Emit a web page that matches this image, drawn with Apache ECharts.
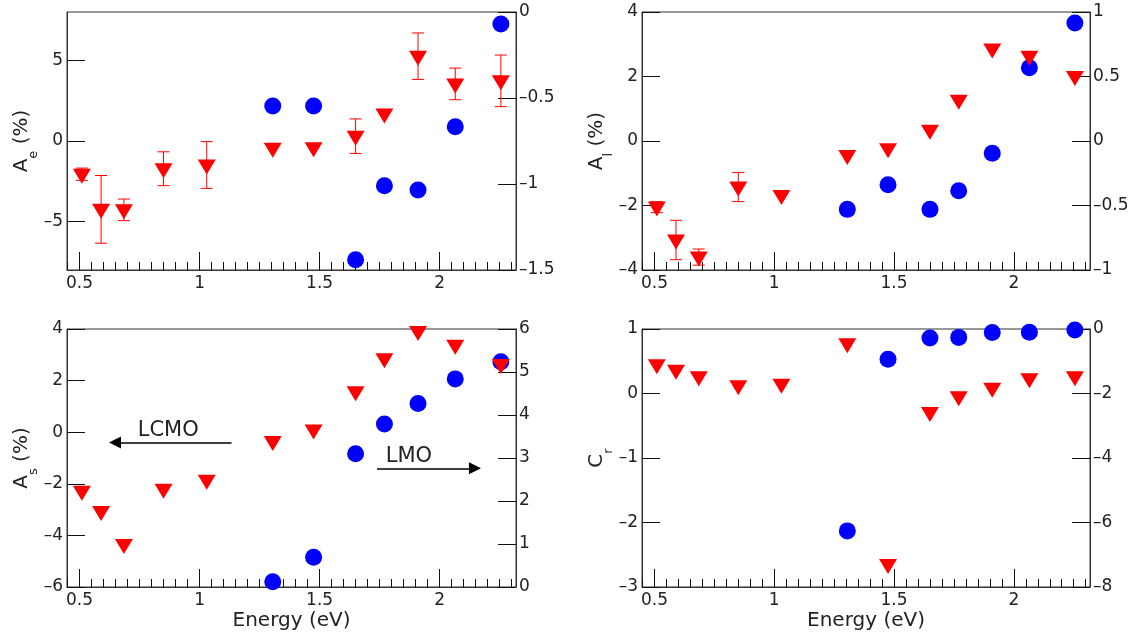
<!DOCTYPE html>
<html>
<head>
<meta charset="utf-8">
<script src="https://cdn.jsdelivr.net/npm/echarts@6/dist/echarts.min.js"></script>
<style>
html, body { margin: 0; padding: 0; background: #fff; }
#main { width: 1131px; height: 638px; }
</style>
</head>
<body>
<div id="main"></div>
<script>
// photon energies (eV)
var energy = [0.51, 0.59, 0.685, 0.85, 1.03, 1.305, 1.475, 1.65, 1.77, 1.91, 2.065, 2.255];
var energyLmo = [1.305, 1.475, 1.65, 1.77, 1.91, 2.065, 2.255];

// LCMO - red triangles, left axis
var lcmoAe = [-2.06, -4.24, -4.27, -1.72, -1.49, -0.45, -0.42, 0.30, 1.67, 5.26, 3.54, 3.73];
var lcmoAeErr = [0.38, 2.10, 0.67, 1.05, 1.45, 0, 0, 1.07, 0, 1.44, 0.98, 1.60];
var lcmoAl = [-2.05, -3.07, -3.60, -1.43, -1.69, -0.45, -0.24, 0.33, 1.26, 2.85, 2.63, 2.00];
var lcmoAlErr = [0.17, 0.61, 0.25, 0.45, 0, 0, 0, 0, 0, 0, 0, 0];
var lcmoAs = [-2.29, -3.07, -4.35, -2.21, -1.86, -0.36, 0.09, 1.57, 2.85, 3.90, 3.37, 2.62];
var lcmoCr = [0.445, 0.36, 0.26, 0.12, 0.145, 0.77, -2.65, -0.295, -0.05, 0.08, 0.23, 0.26];

// LMO - blue circles, right axis
var lmoAe = [-0.547, -0.547, -1.44, -1.01, -1.035, -0.667, -0.07];
var lmoAl = [-0.53, -0.34, -0.53, -0.385, -0.095, 0.568, 0.915];
var lmoAs = [0.12, 0.69, 3.10, 3.79, 4.27, 4.84, 5.24];
var lmoCr = [-6.26, -0.94, -0.28, -0.26, -0.11, -0.10, -0.03];

// ticks
var xTicks = [0.5, 1, 1.5, 2];
var xMinorTicks = [];
for (var t = 45; t <= 230; t += 5) xMinorTicks.push(t / 100);
var aeLeftTicks = [-5, 0, 5];
var aeRightTicks = [-1.5, -1, -0.5, 0];
var alLeftTicks = [-4, -2, 0, 2, 4];
var alRightTicks = [-1, -0.5, 0, 0.5, 1];
var asLeftTicks = [-6, -4, -2, 0, 2, 4];
var asRightTicks = [0, 1, 2, 3, 4, 5, 6];
var crLeftTicks = [-3, -2, -1, 0, 1];
var crRightTicks = [-8, -6, -4, -2, 0];

var FONT = 'DejaVu Sans';
var TXT = '#222';
var X_MIN = 0.448, X_MAX = 2.318;

var panels = [
	{ left: 67, top: 12, width: 449, name: '{i|A}{s|e}{i| (%)}', yl: [-8, 8], yr: [-1.5, 0],
	  lt: aeLeftTicks, rt: aeRightTicks, red: lcmoAe, err: lcmoAeErr, blue: lmoAe, xname: '' },
	{ left: 642, top: 12, width: 448, name: '{i|A}{s|l}{i| (%)}', yl: [-4, 4], yr: [-1, 1],
	  lt: alLeftTicks, rt: alRightTicks, red: lcmoAl, err: lcmoAlErr, blue: lmoAl, xname: '' },
	{ left: 67, top: 329, width: 449, name: '{i|A}{s|s}{i| (%)}', yl: [-6, 4], yr: [0, 6],
	  lt: asLeftTicks, rt: asRightTicks, red: lcmoAs, err: null, blue: lmoAs, xname: 'Energy (eV)' },
	{ left: 642, top: 329, width: 448, name: '{i|C}{s|r}', yl: [-3, 1], yr: [-8, 0],
	  lt: crLeftTicks, rt: crRightTicks, red: lcmoCr, err: null, blue: lmoCr, xname: 'Energy (eV)' }
];

function fmt(v) {
	return (v < 0 ? '\u2013' : '') + Math.abs(v);
}

function pairs(xs, ys, es) {
	return xs.map(function(x, k) {
		return es ? [x, ys[k], es[k]] : [x, ys[k]];
	});
}

var grids = [], xAxes = [], yAxes = [], series = [];

panels.forEach(function(p, i) {
	grids.push({
		left: p.left, top: p.top, width: p.width, height: 258,
		show: true, borderColor: '#333', borderWidth: 1, backgroundColor: 'transparent',
		containLabel: false, outerBoundsMode: 'none'
	});

	// main x axis with long ticks and labels
	xAxes.push({
		type: 'value', gridIndex: i, position: 'bottom', min: X_MIN, max: X_MAX,
		name: p.xname, nameLocation: 'middle', nameGap: 24,
		nameTextStyle: { fontFamily: FONT, fontSize: 20, color: TXT },
		axisLine: { show: true, onZero: false, lineStyle: { color: '#333', width: 1 } },
		axisTick: { show: true, inside: true, length: 18, customValues: xTicks, lineStyle: { color: '#111' } },
		axisLabel: { show: true, customValues: xTicks, margin: 5, fontFamily: FONT, fontSize: 17, color: TXT },
		splitLine: { show: false }
	});
	// minor ticks
	xAxes.push({
		type: 'value', gridIndex: i, position: 'bottom', min: X_MIN, max: X_MAX,
		axisLine: { show: false, onZero: false },
		axisTick: { show: true, inside: true, length: 8, customValues: xMinorTicks, lineStyle: { color: '#111' } },
		axisLabel: { show: false },
		splitLine: { show: false }
	});

	yAxes.push({
		type: 'value', gridIndex: i, position: 'left', min: p.yl[0], max: p.yl[1],
		name: p.name, nameLocation: 'middle', nameRotate: 90, nameGap: 27,
		nameTextStyle: {
			fontFamily: FONT, color: TXT,
			rich: {
				i: { fontFamily: FONT, fontSize: 20, color: TXT },
				s: { fontFamily: FONT, fontSize: 13, color: TXT, padding: [22, 0, 0, 0] }
			}
		},
		axisLine: { show: true, onZero: false, lineStyle: { color: '#333', width: 1 } },
		axisTick: { show: true, inside: true, length: 18, customValues: p.lt, lineStyle: { color: '#111' } },
		axisLabel: { show: true, customValues: p.lt, margin: 4, formatter: fmt, fontFamily: FONT, fontSize: 17, color: TXT },
		splitLine: { show: false }
	});
	yAxes.push({
		type: 'value', gridIndex: i, position: 'right', min: p.yr[0], max: p.yr[1],
		axisLine: { show: true, onZero: false, lineStyle: { color: '#333', width: 1 } },
		axisTick: { show: true, inside: true, length: 18, customValues: p.rt, lineStyle: { color: '#111' } },
		axisLabel: { show: true, customValues: p.rt, margin: 3, formatter: fmt, fontFamily: FONT, fontSize: 17, color: TXT },
		splitLine: { show: false }
	});

	var blue = {
		type: 'scatter', xAxisIndex: 2 * i, yAxisIndex: 2 * i + 1,
		data: pairs(energyLmo, p.blue),
		symbol: 'circle', symbolSize: 17,
		itemStyle: { color: '#0000ff', opacity: 1 },
		silent: true, emphasis: { disabled: true }, z: 3
	};
	var red = {
		type: 'scatter', xAxisIndex: 2 * i, yAxisIndex: 2 * i,
		data: pairs(energy, p.red),
		symbol: 'triangle', symbolRotate: 180, symbolSize: [18, 15], symbolOffset: [0, 2],
		itemStyle: { color: '#ff0000', opacity: 1 },
		silent: true, emphasis: { disabled: true }, z: 5
	};

	if (i === 2) {
		// LCMO / LMO arrows
		var mlStyle = { color: '#000', width: 1.5, type: 'solid', opacity: 1 };
		red.markLine = {
			silent: true, animation: false, symbol: ['triangle', 'none'], symbolSize: 12,
			lineStyle: mlStyle, itemStyle: { color: '#000', opacity: 1 },
			label: { show: true, position: 'middle', formatter: 'LCMO', distance: 1,
				padding: [0, 10, 0, 0], fontFamily: FONT, fontSize: 21, color: TXT },
			data: [[{ coord: [0.648, -0.40] }, { coord: [1.133, -0.40] }]]
		};
		blue.markLine = {
			silent: true, animation: false, symbol: ['none', 'triangle'], symbolSize: 12,
			lineStyle: mlStyle, itemStyle: { color: '#000', opacity: 1 },
			label: { show: true, position: 'middle', formatter: 'LMO', distance: 1,
				padding: [0, 34, 0, 0], fontFamily: FONT, fontSize: 21, color: TXT },
			data: [[{ coord: [1.739, 2.76] }, { coord: [2.147, 2.76] }]]
		};
	}

	series.push(blue);

	if (p.err) {
		series.push({
			type: 'custom', xAxisIndex: 2 * i, yAxisIndex: 2 * i,
			data: pairs(energy, p.red, p.err),
			encode: { x: 0, y: 1 },
			silent: true, z: 4,
			renderItem: function(params, api) {
				var x = api.value(0), y = api.value(1), e = api.value(2);
				if (!e) return;
				var top = api.coord([x, y + e]);
				var bot = api.coord([x, y - e]);
				var cap = 6;
				var st = { stroke: '#ff0000', lineWidth: 1 };
				return {
					type: 'group',
					children: [
						{ type: 'line', shape: { x1: top[0], y1: top[1], x2: bot[0], y2: bot[1] }, style: st },
						{ type: 'line', shape: { x1: top[0] - cap, y1: top[1], x2: top[0] + cap, y2: top[1] }, style: st },
						{ type: 'line', shape: { x1: bot[0] - cap, y1: bot[1], x2: bot[0] + cap, y2: bot[1] }, style: st }
					]
				};
			}
		});
	}

	series.push(red);
});

var myChart = echarts.init(document.getElementById('main'), null, { renderer: 'canvas' });
myChart.setOption({
	animation: false,
	backgroundColor: '#fff',
	grid: grids,
	xAxis: xAxes,
	yAxis: yAxes,
	series: series
});
</script>
</body>
</html>
